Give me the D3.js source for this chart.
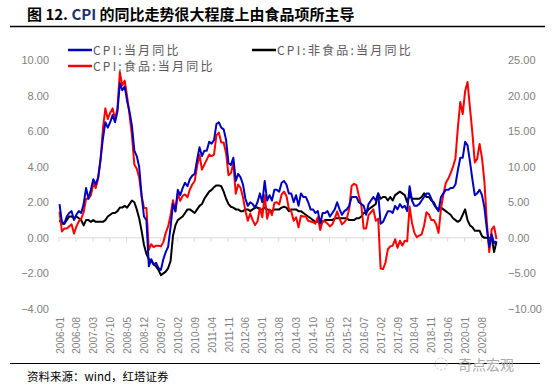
<!DOCTYPE html>
<html>
<head>
<meta charset="utf-8">
<script src="https://cdn.jsdelivr.net/npm/d3@7"></script>
<style>
  body { margin: 0; background: #fff; }
  svg { display: block; }
</style>
</head>
<body>
<svg></svg>
<script>
const width = 554;
const height = 388;

// monthly categories 2006-01 .. 2021-02
const months = d3.timeMonth
  .range(new Date(2006, 0, 1), new Date(2021, 2, 1))
  .map(d3.timeFormat("%Y-%m"));

const tickLabels = [
  "2006-01", "2006-08", "2007-03", "2007-10", "2008-05", "2008-12", "2009-07",
  "2010-02", "2010-09", "2011-04", "2011-11", "2012-06", "2013-01", "2013-08",
  "2014-03", "2014-10", "2015-05", "2015-12", "2016-07", "2017-02", "2017-09",
  "2018-04", "2018-11", "2019-06", "2020-01", "2020-08"
];

// CPI:当月同比 (left axis)
const cpi = [
  1.9, 0.9, 0.8, 1.2, 1.4, 1.5, 1.0, 1.3, 1.5, 1.4, 1.9, 2.8,   // 2006
  2.2, 2.7, 3.3, 3.0, 3.4, 4.4, 5.6, 6.5, 6.2, 6.5, 6.9, 6.5,   // 2007
  7.1, 8.7, 8.3, 8.5, 7.7, 7.1, 6.3, 4.9, 4.6, 4.0, 2.4, 1.2,   // 2008
  1.0, -1.6, -1.2, -1.5, -1.4, -1.7, -1.8, -1.2, -0.8, -0.5, 0.6, 1.9, // 2009
  1.5, 2.7, 2.4, 2.8, 3.1, 2.9, 3.3, 3.5, 3.6, 4.4, 5.1, 4.6,   // 2010
  4.9, 4.9, 5.4, 5.3, 5.5, 6.4, 6.5, 6.2, 6.1, 5.5, 4.2, 4.1,   // 2011
  4.5, 3.2, 3.6, 3.4, 3.0, 2.2, 1.8, 2.0, 1.9, 1.7, 2.0, 2.5,   // 2012
  2.0, 3.2, 2.1, 2.4, 2.1, 2.7, 2.7, 2.6, 3.1, 3.2, 3.0, 2.5,   // 2013
  2.5, 2.0, 2.4, 1.8, 2.5, 2.3, 2.3, 2.0, 1.6, 1.6, 1.4, 1.5,   // 2014
  0.8, 1.4, 1.4, 1.5, 1.2, 1.4, 1.6, 2.0, 1.6, 1.3, 1.5, 1.6,   // 2015
  1.8, 2.3, 2.3, 2.3, 2.0, 1.9, 1.8, 1.3, 1.9, 2.1, 2.3, 2.1,   // 2016
  2.5, 0.8, 0.9, 1.2, 1.5, 1.5, 1.4, 1.8, 1.6, 1.9, 1.7, 1.8,   // 2017
  1.5, 2.9, 2.1, 1.8, 1.8, 1.9, 2.1, 2.3, 2.5, 2.5, 2.2, 1.9,   // 2018
  1.7, 1.5, 2.3, 2.5, 2.7, 2.7, 2.8, 2.8, 3.0, 3.8, 4.5, 4.5,   // 2019
  5.4, 5.2, 4.3, 3.3, 2.4, 2.5, 2.7, 2.4, 1.7, 0.5, -0.5, 0.2,  // 2020
  -0.3, -0.2                                                    // 2021
];

// CPI:食品:当月同比 (right axis)
const food = [
  3.7, 0.9, 1.3, 1.3, 1.6, 1.9, 0.6, 1.6, 2.3, 2.7, 3.6, 5.5,   // 2006
  5.5, 6.0, 7.6, 7.0, 8.3, 11.0, 15.4, 18.2, 16.7, 17.6, 18.2, 16.7, // 2007
  18.2, 23.3, 21.4, 22.1, 19.9, 17.3, 14.4, 10.3, 9.7, 8.5, 5.9, 4.2, // 2008
  4.2, -1.7, -0.9, -1.3, -1.1, -1.1, -1.2, -0.6, 0.7, 1.6, 3.2, 5.3,  // 2009
  3.7, 6.2, 5.2, 5.9, 6.1, 5.7, 6.8, 7.5, 8.0, 10.1, 11.7, 9.6,  // 2010
  10.3, 11.0, 11.7, 11.5, 11.7, 14.4, 14.8, 13.4, 13.4, 11.9, 8.8, 9.1, // 2011
  10.5, 6.2, 7.5, 7.0, 5.7, 3.8, 2.4, 3.4, 2.5, 1.8, 2.3, 4.2,  // 2012
  2.9, 6.0, 2.7, 4.0, 3.2, 4.9, 5.0, 4.7, 6.1, 6.5, 5.9, 4.1,   // 2013
  3.7, 2.4, 2.9, 1.5, 3.1, 3.0, 3.0, 2.4, 2.3, 2.2, 2.0, 2.9,   // 2014
  1.1, 2.4, 2.3, 2.0, 1.6, 1.9, 2.7, 3.7, 2.7, 1.9, 2.2, 2.7,   // 2015
  4.1, 7.3, 7.6, 7.4, 5.9, 4.6, 1.3, 1.3, 3.2, 3.6, 4.0, 2.4,   // 2016
  2.7, -4.3, -4.4, -3.5, -1.6, -1.2, -1.1, -0.2, -1.4, -0.4, -1.1, -0.4, // 2017
  -0.5, 4.4, 2.1, 0.7, 0.1, 0.3, 0.5, 1.7, 3.6, 3.3, 2.5, 2.5,  // 2018
  1.9, 0.7, 4.1, 6.1, 7.7, 8.3, 9.1, 10.0, 11.2, 15.5, 19.1, 17.4, // 2019
  20.6, 21.9, 18.3, 14.8, 10.6, 11.1, 13.2, 11.2, 7.9, 2.2, -2.0, 1.2, // 2020
  1.6, -0.2                                                     // 2021
];

// CPI:非食品:当月同比 (left axis)
const nonFood = [
  1.0, 0.8, 0.8, 1.0, 1.2, 1.2, 1.1, 1.2, 1.1, 1.0, 0.7, 1.0,   // 2006
  1.0, 0.9, 1.0, 0.9, 0.9, 0.9, 0.9, 1.0, 1.2, 1.3, 1.4, 1.4,   // 2007
  1.5, 1.7, 1.7, 1.8, 1.7, 1.9, 2.1, 2.0, 1.6, 1.1, 0.4, -0.4,  // 2008
  -0.9, -1.2, -1.3, -1.5, -1.6, -1.8, -2.1, -2.0, -1.9, -1.7, -1.3, 0.1, // 2009
  0.7, 1.0, 1.1, 1.2, 1.4, 1.6, 1.6, 1.5, 1.4, 1.6, 1.8, 1.9,   // 2010
  2.2, 2.4, 2.6, 2.7, 2.85, 2.95, 2.95, 2.9, 2.6, 2.2, 1.9, 1.75, // 2011
  1.7, 1.6, 1.6, 1.5, 1.5, 1.6, 1.6, 1.5, 1.6, 1.7, 1.7, 1.6,   // 2012
  1.6, 1.7, 1.6, 1.55, 1.5, 1.6, 1.6, 1.6, 1.7, 1.75, 1.7, 1.5, // 2013
  1.6, 1.6, 1.6, 1.5, 1.5, 1.4, 1.3, 1.2, 1.1, 1.0, 0.9, 0.9,   // 2014
  0.9, 0.9, 1.0, 1.0, 1.0, 1.0, 1.1, 1.1, 1.1, 1.1, 1.1, 1.1,   // 2015
  1.0, 1.0, 1.0, 1.1, 1.1, 1.2, 1.4, 1.4, 1.6, 1.7, 1.8, 1.9,   // 2016
  2.5, 2.2, 2.3, 2.3, 2.1, 2.3, 2.1, 2.4, 2.5, 2.6, 2.5, 2.4,   // 2017
  2.0, 2.4, 2.2, 2.2, 2.2, 2.2, 2.3, 2.5, 2.3, 2.3, 2.1, 2.0,   // 2018
  1.7, 1.6, 1.7, 1.6, 1.5, 1.4, 1.3, 1.1, 1.0, 0.9, 1.0, 1.3,   // 2019
  1.6, 1.0, 0.7, 0.6, 0.4, 0.4, 0.4, 0.1, 0.0, 0.0, 0.0, 0.0,   // 2020
  -0.8, -0.2                                                    // 2021
];

const leftTicks = [-4, -2, 0, 2, 4, 6, 8, 10];
const rightTicks = [-10, -5, 0, 5, 10, 15, 20, 25];

const svg = d3.select("svg").attr("width", width).attr("height", height);

const x = d3.scalePoint().domain(months).range([59.5, 496.5]);
const yL = d3.scaleLinear().domain([-4, 10]).range([309, 60]);
const yR = d3.scaleLinear().domain([-10, 25]).range([309, 60]);

const grey = "#7f7f7f";

// title
const title = svg.append("text")
  .attr("x", 27).attr("y", 20)
  .style("font-family", "'Noto Sans CJK SC', sans-serif")
  .style("font-size", "15px").style("font-weight", "bold");
title.append("tspan").text("图 12. ");
title.append("tspan").attr("fill", "#1f2f6f").text("CPI");
title.append("tspan").text(" 的同比走势很大程度上由食品项所主导");

svg.append("line").attr("x1", 10).attr("x2", 545).attr("y1", 26.5).attr("y2", 26.5)
  .attr("stroke", "#000").attr("stroke-width", 1.5);

// y axis labels
svg.append("g")
  .attr("transform", "translate(50,0)")
  .call(d3.axisLeft(yL).tickValues(leftTicks).tickSize(0).tickPadding(1).tickFormat(d3.format(".2f")))
  .call(g => g.select(".domain").remove())
  .selectAll("text")
  .style("font-family", "'Liberation Sans', sans-serif").style("font-size", "11px").attr("fill", grey);

svg.append("g")
  .attr("transform", "translate(507,0)")
  .call(d3.axisRight(yR).tickValues(rightTicks).tickSize(0).tickPadding(1).tickFormat(d3.format(".2f")))
  .call(g => g.select(".domain").remove())
  .selectAll("text")
  .style("font-family", "'Liberation Sans', sans-serif").style("font-size", "11px").attr("fill", grey);

// zero line with ticks
const zeroAxis = svg.append("g")
  .attr("transform", `translate(0,${yL(0)})`)
  .call(d3.axisBottom(x).tickValues(tickLabels).tickSize(4).tickFormat(""));
zeroAxis.select(".domain").attr("stroke", "#d9d9d9").attr("d", "M58.3,0H498");
zeroAxis.selectAll(".tick line").attr("stroke", "#d9d9d9").attr("transform", "translate(-1,0)");

// bottom category labels
svg.append("g")
  .attr("transform", "translate(0,313)")
  .call(d3.axisBottom(x).tickValues(tickLabels).tickSize(0))
  .call(g => g.select(".domain").remove())
  .selectAll("text")
  .attr("transform", "rotate(-90)")
  .attr("x", -4).attr("y", 0).attr("dy", "0.35em")
  .attr("text-anchor", "end")
  .style("font-family", "'Liberation Sans', sans-serif").style("font-size", "10px").attr("fill", grey);

// lines
const lineL = d3.line().x((d, i) => x(months[i])).y(d => yL(d));
const lineR = d3.line().x((d, i) => x(months[i])).y(d => yR(d));

svg.append("path").datum(nonFood).attr("d", lineL)
  .attr("fill", "none").attr("stroke", "#000").attr("stroke-width", 2).attr("stroke-linejoin", "round");
svg.append("path").datum(food).attr("d", lineR)
  .attr("fill", "none").attr("stroke", "#ff0000").attr("stroke-width", 2).attr("stroke-linejoin", "round");
svg.append("path").datum(cpi).attr("d", lineL)
  .attr("fill", "none").attr("stroke", "#0000c0").attr("stroke-width", 2).attr("stroke-linejoin", "round");

// legend
const legend = [
  { name: "CPI:当月同比", color: "#0000c0", x: 68, y: 50 },
  { name: "CPI:非食品:当月同比", color: "#000", x: 252, y: 50 },
  { name: "CPI:食品:当月同比", color: "#ff0000", x: 68, y: 66 }
];
const lg = svg.append("g").selectAll("g").data(legend).join("g")
  .attr("transform", d => `translate(${d.x},${d.y})`);
lg.append("line").attr("x1", 0).attr("x2", 24).attr("stroke", d => d.color).attr("stroke-width", 2.5);
lg.append("text").attr("x", 25).attr("dy", "0.38em").text(d => d.name)
  .style("font-family", "'Noto Sans CJK SC', sans-serif").style("font-size", "12px")
  .style("letter-spacing", "2.2px").attr("fill", "#595959");

// footer
svg.append("line").attr("x1", 10).attr("x2", 540).attr("y1", 363.5).attr("y2", 363.5)
  .attr("stroke", "#000").attr("stroke-width", 1.2);
svg.append("text").attr("x", 27).attr("y", 381)
  .style("font-family", "'Noto Sans CJK SC', sans-serif").style("font-size", "11.5px")
  .attr("fill", "#000").text("资料来源：wind，红塔证券");
svg.append("circle").attr("cx", 441).attr("cy", 364).attr("r", 6)
  .attr("fill", "none").attr("stroke", "#bbb").attr("stroke-width", 1).attr("stroke-dasharray", "2,2");
svg.append("text").attr("x", 458).attr("y", 370)
  .style("font-family", "'Noto Sans CJK SC', sans-serif").style("font-size", "14px")
  .attr("fill", "#aaa").text("奇点宏观");
</script>
</body>
</html>
